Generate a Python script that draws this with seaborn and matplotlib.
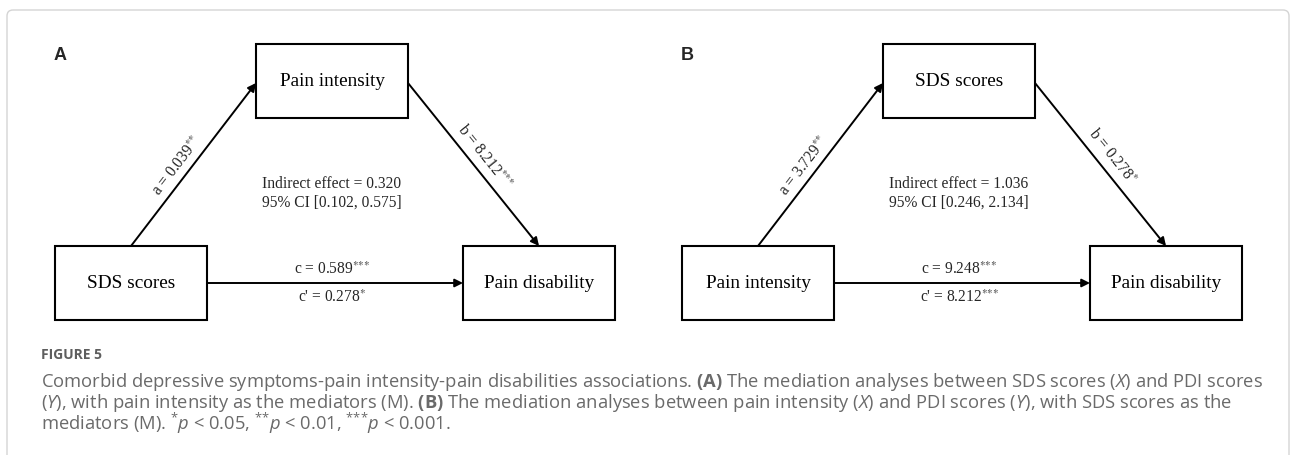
import matplotlib
matplotlib.use("Agg")
import matplotlib.pyplot as plt
from matplotlib.patches import Rectangle, FancyBboxPatch
import numpy as np
import seaborn as sns

# ── data ─────────────────────────────────────────────────────
panel_letters = ["A", "B"]
predictors = ["SDS scores", "Pain intensity"]
mediators = ["Pain intensity", "SDS scores"]
outcomes = ["Pain disability", "Pain disability"]
a_coef = ["0.039", "3.729"]
a_sig = ["**", "**"]
b_coef = ["8.212", "0.278"]
b_sig = ["***", "*"]
c_coef = ["0.589", "9.248"]
c_sig = ["***", "***"]
cp_coef = ["0.278", "8.212"]
cp_sig = ["*", "***"]
indirect = ["0.320", "1.036"]
ci_low = ["0.102", "0.246"]
ci_high = ["0.575", "2.134"]

fig_title = "FIGURE 5"
caption_lines = [
    r"Comorbid depressive symptoms-pain intensity-pain disabilities associations. $\mathbf{(A)}$ "
    r"The mediation analyses between SDS scores ($\mathit{X}$) and PDI scores",
    r"($\mathit{Y}$), with pain intensity as the mediators (M). $\mathbf{(B)}$ The mediation analyses "
    r"between pain intensity ($\mathit{X}$) and PDI scores ($\mathit{Y}$), with SDS scores as the",
    r"mediators (M). $^{{*}}\mathit{p}$ < 0.05, $^{{*}{*}}\mathit{p}$ < 0.01, "
    r"$^{{*}{*}{*}}\mathit{p}$ < 0.001.",
]

# ── style ────────────────────────────────────────────────────
sns.set_theme(style="white")
plt.rcParams["font.family"] = ["Liberation Serif", "DejaVu Serif"]
cap_font = "Open Sans"
plt.rcParams["mathtext.fontset"] = "custom"
plt.rcParams["mathtext.rm"] = cap_font
plt.rcParams["mathtext.it"] = cap_font + ":italic"
plt.rcParams["mathtext.bf"] = cap_font + ":bold"

W, H = 1293, 456
fig = plt.figure(figsize=(W / 100, H / 100), dpi=100)
ax = fig.add_axes([0, 0, 1, 1])
ax.set_xlim(0, W)
ax.set_ylim(H, 0)
ax.axis("off")

# outer frame (bottom runs off the image)
ax.add_patch(FancyBboxPatch((7, 11), 1282, 470, boxstyle="round,pad=0,rounding_size=6",
                            fill=False, edgecolor="#d4d4d4", lw=1.0))

# ── layout (pixels) ──────────────────────────────────────────
panel_x0 = [55, 682]
BW, BH = 152, 74
TOP_DX, TOP_Y = 201, 45
BOT_Y = 247
RIGHT_DX = 408
MID_DX = 277
box_lw = 1.5
arr_lw = 1.4
serif_math = "stix"


def box(x, y, label):
    ax.add_patch(Rectangle((x, y), BW, BH, fill=False, edgecolor="black", lw=box_lw))
    ax.text(x + BW / 2, y + BH / 2, label, ha="center", va="center", fontsize=13.9, color="black")


def arrow(p0, p1):
    ax.annotate("", xy=p1, xytext=p0,
                arrowprops=dict(arrowstyle="-|>", color="black", lw=arr_lw,
                                mutation_scale=12, shrinkA=0, shrinkB=0))


def stars(s):
    return "$^{" + "".join("{*}" for _ in s) + "}$"


def path_label(p0, p1, text, t, off):
    p0, p1 = np.array(p0, float), np.array(p1, float)
    d = p1 - p0
    d /= np.hypot(*d)
    n = np.array([d[1], -d[0]])
    c = p0 + (p1 - p0) * 0 + d * t * np.hypot(*(p1 - p0)) + n * off
    ang = np.degrees(np.arctan2(-d[1], d[0]))
    ax.text(c[0], c[1], text, rotation=ang, rotation_mode="anchor", ha="center", va="center",
            fontsize=11.2, math_fontfamily=serif_math)


for i, x0 in enumerate(panel_x0):
    ax.text(x0 + 5, 56, panel_letters[i], ha="center", va="center", fontsize=13,
            fontweight="bold", family="Liberation Sans")

    top_x = x0 + TOP_DX
    right_x = x0 + RIGHT_DX
    box(top_x, TOP_Y, mediators[i])
    box(x0, BOT_Y, predictors[i])
    box(right_x, BOT_Y, outcomes[i])

    y_mid_top = 84
    y_mid_bot = BOT_Y + BH / 2
    pa0, pa1 = (x0 + BW / 2, BOT_Y), (top_x, y_mid_top)
    pb0, pb1 = (top_x + BW, y_mid_top), (right_x + BW / 2, BOT_Y)
    pc0, pc1 = (x0 + BW, y_mid_bot), (right_x, y_mid_bot)
    arrow(pa0, pa1)
    arrow(pb0, pb1)
    arrow(pc0, pc1)

    path_label(pa0, pa1, f"a = {a_coef[i]}" + stars(a_sig[i]), t=0.45, off=12)
    path_label(pb0, pb1, f"b = {b_coef[i]}" + stars(b_sig[i]), t=0.5, off=14)

    cx = x0 + MID_DX
    ax.text(cx, 270, f"c = {c_coef[i]}" + stars(c_sig[i]), ha="center", va="center",
            fontsize=11.2, math_fontfamily=serif_math)
    ax.text(cx, 298, f"c' = {cp_coef[i]}" + stars(cp_sig[i]), ha="center", va="center",
            fontsize=11.2, math_fontfamily=serif_math)
    ax.text(cx, 184, f"Indirect effect = {indirect[i]}", ha="center", va="center", fontsize=11.2)
    ax.text(cx, 203, f"95% CI [{ci_low[i]}, {ci_high[i]}]", ha="center", va="center", fontsize=11.2)

# ── caption ──────────────────────────────────────────────────
grey = "#6a6a6a"
ax.text(41, 359, fig_title, ha="left", va="baseline", fontsize=10, color="#5e5e5e",
        family=cap_font, fontweight="bold")
cap_y = [387, 408.5, 430]
texts = [ax.text(41, y, s, ha="left", va="baseline", fontsize=12, color=grey, family=cap_font,
                 math_fontfamily="custom") for y, s in zip(cap_y, caption_lines)]

# scale caption so the first line ends where the reference's does
r = fig.canvas.get_renderer()
w = texts[0].get_window_extent(r).width
fs = 12 * (1257 - 41) / w
for t in texts:
    t.set_fontsize(fs)

fig.savefig("out.png", dpi=100)
